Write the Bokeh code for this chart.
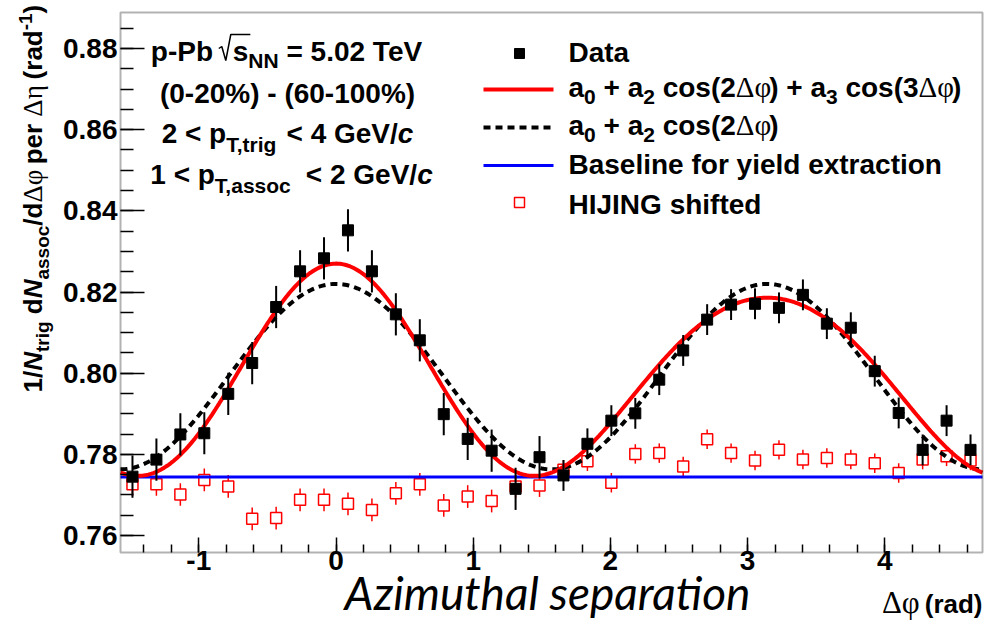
import numpy as np
from bokeh.plotting import figure
from bokeh.models import (Label, Range1d, FixedTicker, PrintfTickFormatter,
                          BoxAnnotation)
from bokeh.embed import file_html
from bokeh.resources import INLINE

# ---------------------------------------------------------------- data
# bin centres in delta-phi (rad)
dphi = [-1.4835, -1.3090, -1.1345, -0.9599, -0.7854, -0.6109, -0.4363, -0.2618,
        -0.0873, 0.0873, 0.2618, 0.4363, 0.6109, 0.7854, 0.9599, 1.1345,
        1.3090, 1.4835, 1.6581, 1.8326, 2.0071, 2.1817, 2.3562, 2.5307,
        2.7053, 2.8798, 3.0543, 3.2289, 3.4034, 3.5779, 3.7525, 3.9270,
        4.1015, 4.2761, 4.4506, 4.6251]

# per-trigger yield, (0-20%) - (60-100%)
data_y = [0.7745, 0.7787, 0.7849, 0.7852, 0.7949, 0.8025, 0.8163, 0.8251,
          0.8283, 0.8352, 0.8251, 0.8145, 0.8081, 0.7899, 0.7838, 0.7809,
          0.7715, 0.7793, 0.7748, 0.7826, 0.7883, 0.7901, 0.7984, 0.8056,
          0.8132, 0.8169, 0.8171, 0.8161, 0.8193, 0.8122, 0.8112, 0.8005,
          0.7902, 0.7811, 0.7883, 0.7811]
data_err = [0.0052] * 18 + [0.0038] * 18

# HIJING, shifted
hijing_y = [0.7726, 0.7726, 0.7701, 0.7737, 0.7721, 0.7641, 0.7643, 0.7688,
            0.7688, 0.7678, 0.7663, 0.7704, 0.7726, 0.7674, 0.7696, 0.7685,
            0.7721, 0.7723, 0.7762, 0.7783, 0.7730, 0.7801, 0.7803, 0.7770,
            0.7837, 0.7803, 0.7785, 0.7811, 0.7787, 0.7791, 0.7787, 0.7778,
            0.7754, 0.7787, 0.7795, 0.7785]
hijing_err = [0.0028] * 18 + [0.0024] * 18

baseline = 0.7744

# fit parameters
fit3_a0, fit3_a2, fit3_a3 = 0.79915, 0.02365, 0.0042
fit2_a0, fit2_a2 = 0.79915, 0.02285

x_ticks = [-1, 0, 1, 2, 3, 4]
y_ticks = [0.76, 0.78, 0.80, 0.82, 0.84, 0.86, 0.88]

# ---------------------------------------------------------------- geometry
W, H = 984, 620
FL, FR, FT, FB = 120, 982, 12, 552          # plot box edges (px)
X0, X1 = -np.pi / 2, 3 * np.pi / 2          # plot box range
Y0, Y1 = 0.75581, 0.88888

SANS = "Liberation Sans"
SERIF = "Liberation Serif"
BASE_CORR = 0.36      # baseline correction, fraction of the font size


def px2x(px):
    return X0 + (px - FL) / (FR - FL) * (X1 - X0)


def py2y(py):
    return Y0 + (FB - py) / (FB - FT) * (Y1 - Y0)


PER_PX = (Y1 - Y0) / (FB - FT)

# advance widths (1/1000 em)
SANS_B = {' ': 278, '\u00a0': 278, '!': 333, '%': 889, '(': 333, ')': 333,
          '+': 584, ',': 278, '-': 333, '.': 278, '/': 278, '<': 584, '=': 584,
          '>': 584, 'A': 722, 'B': 722, 'C': 722, 'D': 722, 'E': 667, 'F': 611,
          'G': 778, 'H': 722, 'I': 278, 'J': 556, 'K': 722, 'L': 611, 'M': 833,
          'N': 722, 'O': 778, 'P': 667, 'R': 722, 'S': 667, 'T': 611, 'V': 667,
          'a': 556, 'b': 611, 'c': 556, 'd': 611, 'e': 556, 'f': 333, 'g': 611,
          'h': 611, 'i': 278, 'j': 278, 'k': 556, 'l': 278, 'm': 889, 'n': 611,
          'o': 611, 'p': 611, 'r': 389, 's': 556, 't': 333, 'u': 611, 'v': 556,
          'x': 556, 'y': 556, 'z': 500}
for d in "0123456789":
    SANS_B[d] = 556
SERIF_R = {'Δ': 612, 'φ': 537, 'η': 500, ' ': 250, '\u00a0': 250}


def seg_width(seg):
    text, size, style = seg[0], seg[1], seg[2]
    if style == "gap":
        return size
    tbl = SERIF_R if style == "g" else SANS_B
    return sum(tbl.get(ch, 556) for ch in text) * size / 1000.0


def rich_text(p, x, y, segs, align="left", vertical=False):
    """Lay out a run of text pieces (with sub/superscripts) from page pixel (x, y).
    segs: (text, size, style, shift) with style b / bi / g / gap, shift in px
    (positive = below the baseline)."""
    widths = [seg_width(s) for s in segs]
    total = sum(widths)
    pos = {"left": 0.0, "center": -total / 2, "right": -total}[align]
    starts = []
    for seg, w in zip(segs, widths):
        text, size, style = seg[0], seg[1], seg[2]
        shift = (seg[3] if len(seg) > 3 else 0) - BASE_CORR * size
        starts.append(pos)
        if style != "gap":
            if vertical:
                lx, ly, ang = x + shift, y - pos, np.pi / 2
            else:
                lx, ly, ang = x + pos, y + shift, 0
            font = SERIF if style == "g" else SANS
            fstyle = {"b": "bold", "bi": "bold italic", "g": "normal"}[style]
            p.add_layout(Label(x=px2x(lx), y=py2y(ly), angle=ang,
                               text=text.replace(" ", "\u00a0"),
                               text_font=font, text_font_style=fstyle,
                               text_font_size=f"{size}px", text_color="black",
                               text_align="left", text_baseline="alphabetic"))
        pos += w
    return [x + s for s in starts], widths


# ---------------------------------------------------------------- figure
# the canvas is all frame; the axes sit at fixed positions on the plot box
p = figure(width=W, height=H,
           x_range=Range1d(px2x(0), px2x(W)), y_range=Range1d(py2y(H), py2y(0)),
           output_backend="svg", toolbar_location=None, min_border=0)
p.title.visible = False
p.grid.visible = False
p.background_fill_color = "white"
p.border_fill_color = "white"
p.outline_line_color = None

p.xaxis.fixed_location = Y0
p.yaxis.fixed_location = X0
minor_x = [round(v, 2) for v in np.arange(-1.4, 4.61, 0.2)]
minor_y = [round(v, 3) for v in np.arange(0.760, 0.8881, 0.005)]
p.xaxis.ticker = FixedTicker(ticks=x_ticks, minor_ticks=minor_x)
p.yaxis.ticker = FixedTicker(ticks=y_ticks, minor_ticks=minor_y)
p.xaxis.formatter = PrintfTickFormatter(format="%d")
p.yaxis.formatter = PrintfTickFormatter(format="%.2f")
for ax, tin, tmin, fs, so in ((p.xaxis, 15, 8, "28px", -2), (p.yaxis, 24, 13, "28px", 3)):
    ax.major_tick_in = tin
    ax.major_tick_out = 0
    ax.minor_tick_in = tmin
    ax.minor_tick_out = 0
    ax.major_tick_line_width = 1.5
    ax.minor_tick_line_width = 1.5
    ax.axis_line_color = None
    ax.major_label_text_font = SANS
    ax.major_label_text_font_style = "bold"
    ax.major_label_text_font_size = fs
    ax.major_label_text_color = "black"
    ax.major_label_standoff = so

# plot box
p.add_layout(BoxAnnotation(left=X0, right=X1, bottom=Y0, top=Y1,
                           fill_color=None, line_color="black", line_width=2))

# HIJING points: open squares with error bars outside the marker
half = 5.5 * PER_PX
hx = np.array(dphi)
hy = np.array(hijing_y)
he = np.array(hijing_err)
p.segment(x0=hx, y0=hy - he, x1=hx, y1=hy - half, line_color="red", line_width=1.5)
p.segment(x0=hx, y0=hy + half, x1=hx, y1=hy + he, line_color="red", line_width=1.5)
p.scatter(hx, hy, marker="square", size=11, fill_color=None,
          line_color="red", line_width=1.5)

# baseline
p.line([X0, X1], [baseline, baseline], line_color="#0000ff", line_width=3)

# fits
phi = np.linspace(X0, X1, 500)
p.line(phi, fit2_a0 + fit2_a2 * np.cos(2 * phi), line_color="black",
       line_width=4, line_dash="7 5")
p.line(phi, fit3_a0 + fit3_a2 * np.cos(2 * phi) + fit3_a3 * np.cos(3 * phi),
       line_color="red", line_width=4)

# data
dx = np.array(dphi)
dy = np.array(data_y)
de = np.array(data_err)
p.segment(x0=dx, y0=dy - de, x1=dx, y1=dy + de, line_color="black", line_width=2)
p.scatter(dx, dy, marker="square", size=11, fill_color="black", line_color="black")

# ---------------------------------------------------------------- legend
LX0, LX1, LSYM, LTXT = 483, 553, 519, 568
p.scatter([px2x(LSYM)], [py2y(53)], marker="square", size=10,
          fill_color="black", line_color="black")
p.line([px2x(LX0), px2x(LX1)], [py2y(89)] * 2, line_color="red", line_width=4)
p.line([px2x(LX0), px2x(LX1)], [py2y(127)] * 2, line_color="black",
       line_width=4, line_dash="7 5")
p.line([px2x(LX0), px2x(LX1)], [py2y(165)] * 2, line_color="#0000ff", line_width=3)
p.scatter([px2x(LSYM)], [py2y(202)], marker="square", size=10,
          fill_color=None, line_color="red", line_width=1.5)

F, S, SH = 28, 21, 7
rich_text(p, LTXT, 62, [("Data", F, "b")])
rich_text(p, LTXT, 97, [("a", F, "b"), ("0", S, "b", SH), (" + a", F, "b"),
                        ("2", S, "b", SH), (" cos(2", F, "b"), ("Δφ", F + 1, "g"),
                        (") + a", F, "b"), ("3", S, "b", SH), (" cos(3", F, "b"),
                        ("Δφ", F + 1, "g"), (")", F, "b")])
rich_text(p, LTXT, 135, [("a", F, "b"), ("0", S, "b", SH), (" + a", F, "b"),
                         ("2", S, "b", SH), (" cos(2", F, "b"), ("Δφ", F + 1, "g"),
                         (")", F, "b")])
rich_text(p, LTXT, 174, [("Baseline for yield extraction", F, "b")])
rich_text(p, LTXT, 214, [("HIJING shifted", F, "b")])

# ---------------------------------------------------------------- labels
CX = 287
xs, ws = rich_text(p, CX, 61, [("p-Pb ", F, "b"), ("", 12, "gap"), ("s", F, "b"),
                               ("NN", S, "b", SH), (" = 5.02 TeV", F, "b")],
                   align="center")
# square-root sign
rx = xs[1]
p.line([px2x(rx - 2), px2x(rx + 1), px2x(rx + 5), px2x(rx + 10), px2x(xs[2] + ws[2] + 2)],
       [py2y(48), py2y(46), py2y(60), py2y(34), py2y(34)],
       line_color="black", line_width=1.5)
rich_text(p, CX, 103, [("(0-20%) - (60-100%)", F, "b")], align="center")
rich_text(p, CX, 143, [("2 < p", F, "b"), ("T,trig", S, "b", 9), (" < 4 GeV/", F, "b"),
                       ("c", F, "bi")], align="center")
rich_text(p, 291, 184, [("1 < p", F, "b"), ("T,assoc", S, "b", 9), ("", 5, "gap"),
                        (" < 2 GeV/", F, "b"), ("c", F, "bi")], align="center")

# y-axis title
YF, YS = 26, 19
rich_text(p, 42, 392, [("1/", YF, "b"), ("N", YF, "bi"), ("trig", YS, "b", 7),
                       (" d", YF, "b"), ("N", YF, "bi"), ("assoc", YS, "b", 7),
                       ("/d", YF, "b"), ("Δφ", YF + 1, "g"), (" per ", YF, "b"),
                       ("Δη", YF + 1, "g"), (" (rad", YF, "b"), ("-1", YS, "b", -10),
                       (")", YF, "b")], vertical=True)

# x-axis titles
p.add_layout(Label(x=px2x(547), y=py2y(609 - BASE_CORR * 46), text="Azimuthal separation",
                   text_font="Lato", text_font_style="italic", text_font_size="46px",
                   text_color="black", text_align="center", text_baseline="alphabetic"))
rich_text(p, 982, 613, [("Δφ", 31, "g"), (" (rad)", 26, "b")], align="right")

open("out.html", "w").write(file_html(p, INLINE))
